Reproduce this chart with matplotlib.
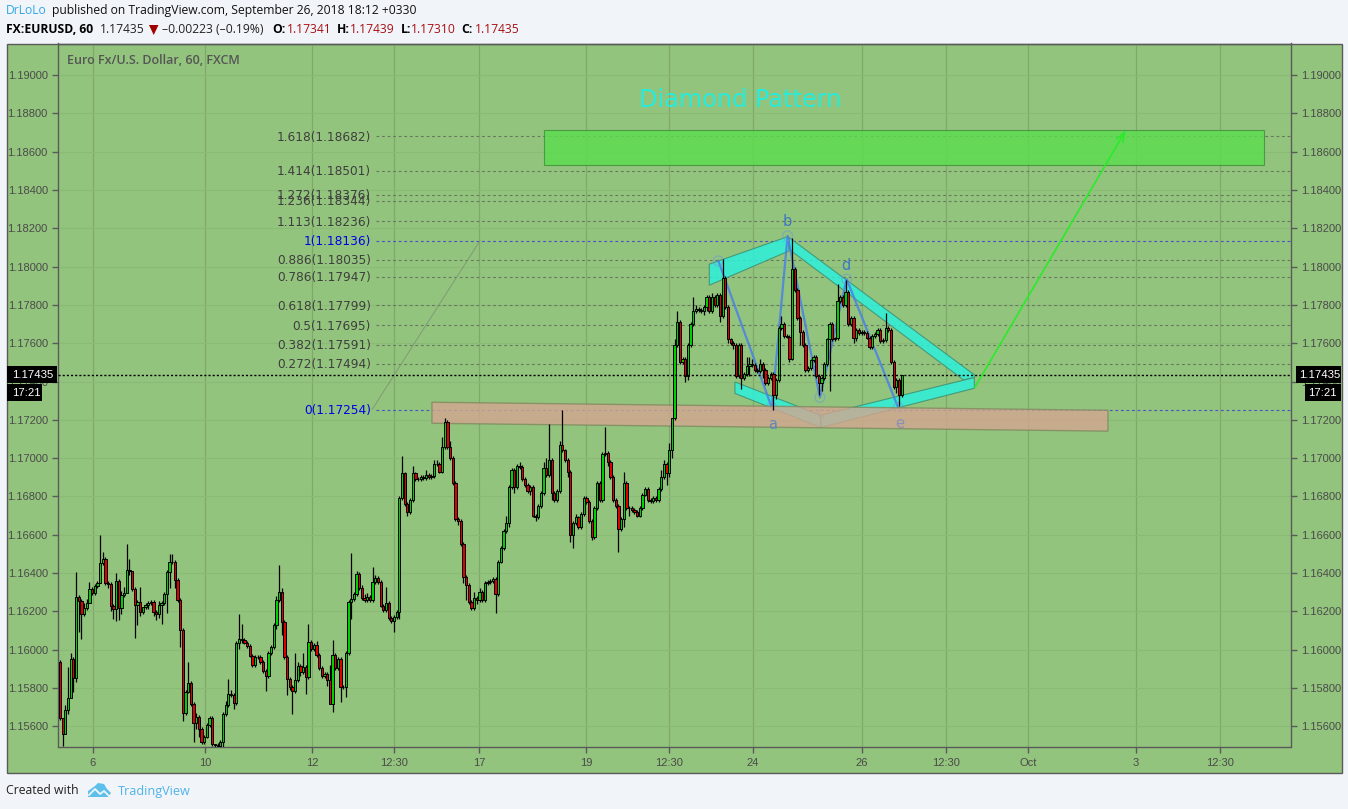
import numpy as np
import matplotlib
matplotlib.use("Agg")
import matplotlib.pyplot as plt
from matplotlib.patches import Rectangle, Polygon

W, H = 1348, 809

# hourly closes, one row per ten bars or so
closes = [
    1.15642, 1.15558, 1.15682, 1.15749, 1.15950, 1.15850, 1.16273, 1.16254, 1.16184, 1.16216,
    1.16242, 1.16315, 1.16294, 1.16334, 1.16350, 1.16451, 1.16472, 1.16346, 1.16343, 1.16230,
    1.16211, 1.16358, 1.16216, 1.16285, 1.16298, 1.16414, 1.16410, 1.16315, 1.16231, 1.16247,
    1.16198, 1.16221, 1.16233, 1.16242, 1.16247, 1.16198, 1.16184, 1.16233, 1.16242, 1.16289,
    1.16404, 1.16459, 1.16456, 1.16364, 1.16259, 1.16103, 1.15668, 1.15781, 1.15824, 1.15715,
    1.15615, 1.15650, 1.15584, 1.15515, 1.15546, 1.15607, 1.15642, 1.15508, 1.15502, 1.15494,
    1.15520, 1.15662, 1.15709, 1.15767, 1.15765, 1.15720, 1.16033, 1.16054, 1.16052, 1.16037,
    1.16019, 1.15969, 1.15920, 1.15963, 1.15961, 1.15937, 1.15890, 1.15864, 1.15981, 1.16012,
    1.16127, 1.16259, 1.16303, 1.16146, 1.15960, 1.15845, 1.15807, 1.15783, 1.15842, 1.15915,
    1.15882, 1.15911, 1.15856, 1.16042, 1.16002, 1.16023, 1.15974, 1.15903, 1.15863, 1.15873,
    1.15842, 1.15715, 1.15972, 1.15903, 1.15950, 1.15807, 1.15805, 1.15981, 1.16251, 1.16263,
    1.16291, 1.16393, 1.16320, 1.16268, 1.16259, 1.16277, 1.16259, 1.16351, 1.16372, 1.16355,
    1.16230, 1.16207, 1.16245, 1.16164, 1.16150, 1.16172, 1.16198, 1.1679, 1.1692, 1.1676,
    1.1672, 1.1678, 1.1692, 1.1689, 1.16892, 1.1690, 1.16895, 1.1691, 1.1690, 1.16905,
    1.1697, 1.16968, 1.1693, 1.1706, 1.1719, 1.1706, 1.1700, 1.1687, 1.1668, 1.16672,
    1.1655, 1.1638, 1.1634, 1.1625, 1.16215, 1.1627, 1.1626, 1.1630, 1.1626, 1.1635,
    1.16352, 1.1636, 1.1637, 1.1629, 1.1646, 1.1653, 1.1662, 1.1666, 1.1685, 1.1694,
    1.1685, 1.1696, 1.16955, 1.1689, 1.1686, 1.1683, 1.1685, 1.1670, 1.1669, 1.1675,
    1.1682, 1.1695, 1.1691, 1.1699, 1.1682, 1.1678, 1.1683, 1.1707, 1.1704, 1.1699,
    1.1693, 1.1660, 1.1666, 1.1669, 1.1664, 1.1671, 1.1679, 1.1677, 1.1667, 1.1659,
    1.1674, 1.1687, 1.1678, 1.1702, 1.17025, 1.1698, 1.1690, 1.1678, 1.1675, 1.1663,
    1.1668, 1.1687, 1.1674, 1.16738, 1.1673, 1.1672, 1.1670, 1.1674, 1.1681, 1.1684,
    1.1678, 1.16775, 1.1679, 1.1678, 1.1684, 1.1690, 1.1697, 1.1692, 1.1704, 1.1721,
    1.1759, 1.1771, 1.1750, 1.1752, 1.1743, 1.1759, 1.1770, 1.1777, 1.1778,
    1.17775, 1.1777, 1.1779, 1.1784, 1.1777, 1.1784, 1.1780, 1.1785, 1.1774, 1.1794,
    1.1779, 1.1762, 1.1760, 1.1759, 1.1743, 1.1759, 1.1742, 1.1744, 1.1748, 1.1749,
    1.17485, 1.1746, 1.17455, 1.1749, 1.1746, 1.1739, 1.1742, 1.1744, 1.1733, 1.1741,
    1.1768, 1.1770, 1.1764, 1.17635, 1.1752, 1.1799, 1.1788, 1.1773, 1.1766, 1.1759,
    1.1746, 1.1747, 1.1751, 1.1753, 1.1743, 1.1739, 1.1742, 1.1749, 1.1762,
    1.1770, 1.1762, 1.17625, 1.1782, 1.1784, 1.1780, 1.1787, 1.1770, 1.1773, 1.1763,
    1.1767, 1.17655, 1.1766, 1.17655, 1.1763, 1.1758, 1.1764, 1.1765, 1.1767, 1.1761,
    1.17615, 1.1768, 1.1767, 1.1750, 1.1737, 1.1741, 1.1733, 1.17435,
]
first_open = 1.15934

# wick lengths above / below the body, in pips
wick_up = [
    1, 0, 3, 16, 3, 1, 13, 1, 1, 3,
    2, 4, 1, 1, 1, 15, 4, 1, 1, 1,
    1, 4, 1, 2, 3, 14, 6, 0, 1, 1,
    8, 0, 1, 1, 1, 1, 1, 2, 1, 1,
    1, 4, 4, 1, 1, 1, 1, 1, 11, 1,
    1, 2, 1, 1, 1, 1, 1, 1, 0, 1,
    1, 1, 2, 8, 2, 1, 1, 13, 8, 1,
    1, 1, 1, 1, 1, 1, 1, 1, 1, 1,
    1, 2, 14, 2, 1, 1, 1, 1, 14, 2,
    1, 7, 1, 9, 1, 1, 2, 1, 1, 1,
    1, 8, 8, 1, 1, 1, 1, 1, 1, 24,
    1, 2, 1, 2, 2, 2, 1, 8, 2, 1,
    1, 1, 8, 1, 1, 1, 1, 1, 9, 1,
    1, 1, 4, 1, 1, 1, 1, 3, 1, 1,
    2, 2, 1, 5, 2, 1, 3, 1, 1, 1,
    1, 1, 1, 1, 1, 3, 1, 2, 1, 1,
    1, 1, 1, 1, 1, 1, 1, 4, 1, 1,
    1, 1, 2, 1, 1, 1, 1, 1, 1, 1,
    1, 3, 5, 19, 1, 1, 1, 2, 18, 1,
    1, 1, 1, 2, 1, 1, 1, 1, 1, 1,
    1, 1, 1, 1, 14, 1, 1, 1, 1, 1,
    1, 6, 1, 1, 1, 1, 1, 1, 1, 1,
    1, 1, 1, 1, 1, 4, 2, 1, 4, 0,
    3, 6, 1, 1, 1, 1, 1, 7, 2,
    1, 1, 1, 1, 1, 2, 1, 1, 1, 10,
    1, 1, 1, 1, 1, 1, 1, 1, 5, 4,
    3, 1, 1, 3, 1, 1, 1, 1, 1, 1,
    1, 4, 1, 1, 1, 16, 1, 1, 1, 1,
    1, 1, 1, 1, 1, 1, 1, 1, 1,
    1, 1, 1, 9, 1, 1, 6, 1, 1, 1,
    1, 1, 1, 1, 1, 1, 1, 1, 1, 1,
    1, 8, 1, 1, 1, 1, 1, 0,
]
wick_down = [
    1, 6, 0, 2, 0, 7, 2, 16, 13, 1,
    1, 0, 1, 1, 1, 0, 1, 1, 2, 3,
    5, 6, 6, 3, 1, 0, 2, 1, 17, 10,
    2, 1, 1, 2, 1, 2, 3, 2, 10, 1,
    10, 8, 1, 4, 1, 9, 4, 1, 1, 1,
    10, 3, 4, 1, 1, 1, 1, 1, 1, 1,
    1, 4, 1, 1, 1, 3, 1, 3, 2, 1,
    1, 1, 1, 1, 1, 1, 1, 8, 1, 1,
    1, 2, 1, 7, 1, 8, 2, 12, 1, 1,
    2, 1, 9, 1, 1, 1, 1, 1, 1, 1,
    3, 0, 4, 1, 1, 8, 1, 5, 1, 9,
    1, 1, 1, 1, 1, 1, 1, 1, 1, 1,
    1, 1, 1, 1, 1, 6, 1, 4, 1, 1,
    2, 1, 1, 1, 1, 1, 1, 1, 1, 1,
    1, 1, 1, 1, 1, 1, 1, 1, 1, 2,
    1, 3, 8, 1, 1, 1, 2, 1, 1, 1,
    1, 1, 1, 10, 1, 1, 1, 1, 2, 1,
    3, 1, 1, 1, 1, 1, 2, 1, 2, 1,
    1, 1, 1, 1, 4, 1, 1, 1, 1, 1,
    3, 4, 7, 1, 1, 1, 1, 1, 1, 2,
    1, 1, 1, 1, 1, 2, 1, 1, 1, 12,
    1, 4, 1, 4, 1, 1, 1, 1, 1, 1,
    1, 1, 1, 1, 1, 1, 1, 6, 2, 4,
    1, 1, 1, 1, 3, 2, 1, 1, 1,
    1, 1, 2, 2, 1, 1, 1, 1, 3, 1,
    1, 2, 1, 2, 1, 1, 6, 1, 1, 5,
    1, 1, 1, 1, 4, 1, 1, 1, 8, 2,
    1, 1, 1, 1, 2, 1, 1, 1, 7, 1,
    1, 1, 1, 1, 1, 6, 4, 1, 1,
    27, 1, 1, 1, 1, 1, 1, 1, 1, 3,
    2, 1, 1, 1, 1, 1, 1, 1, 1, 1,
    1, 1, 1, 1, 1, 3, 6, 1,
]

price_ticks = [1.156, 1.158, 1.160, 1.162, 1.164, 1.166, 1.168, 1.170, 1.172,
               1.174, 1.176, 1.178, 1.180, 1.182, 1.184, 1.186, 1.188, 1.190]
date_ticks = [12.35, 54.27, 94.31, 125.0, 156.8, 196.9, 227.9, 259.4, 300.1,
              331.6, 362.3, 402.7, 434.1]
date_labels = ["6", "10", "12", "12:30", "17", "19", "12:30", "24", "26",
               "12:30", "Oct", "3", "12:30"]

fib_ratios = ["1.618", "1.414", "1.272", "1.236", "1.113", "1", "0.886", "0.786",
              "0.618", "0.5", "0.382", "0.272", "0"]
fib_prices = [1.18682, 1.18501, 1.18376, 1.18344, 1.18236, 1.18136, 1.18035, 1.17947,
              1.17799, 1.17695, 1.17591, 1.17494, 1.17254]

# drawing tools on the chart, (bar, price)
target_zone = [(181.1, 1.18715), (450.6, 1.18715), (450.6, 1.18530), (181.1, 1.18530)]
support_zone = [(139.2, 1.17292), (392.2, 1.17250), (392.2, 1.17141), (139.2, 1.17182)]
band_upper_left = [(243.0, 1.18013), (272.6, 1.18158), (272.8, 1.18082), (243.0, 1.17903)]
band_upper_right = [(272.9, 1.18152), (342.2, 1.17435), (342.2, 1.17421), (338.1, 1.17409), (273.1, 1.18088)]
band_lower_right = [(284.7, 1.17224), (342.2, 1.17421), (342.2, 1.17365), (284.7, 1.17160)]
band_lower_left = [(252.6, 1.17398), (284.7, 1.17224), (284.7, 1.17160), (252.6, 1.17338)]
wave_bars = [246.4, 266.4, 272.3, 284.4, 294.4, 313.7]
wave_prices = [1.18030, 1.17264, 1.18161, 1.17317, 1.17935, 1.17264]
wave_names = ["a", "b", "c", "d", "e"]
wave_name_bars = [266.8, 272.1, 284.4, 294.2, 314.4]
wave_name_prices = [1.17177, 1.18237, 1.17235, 1.18008, 1.17182]
wave_name_colors = ["#5f86b8", "#3f78c4", "#b5a79a", "#3f78c4", "#8a8fb5"]
arrow_start = (342.4, 1.17370)
arrow_end = (398.9, 1.18713)
fib_trend_bars = [116.8, 157.2]
last_price = 1.17435

BG = "#f1f4f8"
PANE = "#93c47d"
EDGE = "#5a5a5a"
TXT = "#4a4a4a"
SANS = "Liberation Sans"
HEAD = "Open Sans"


def pixel_axes(zorder):
    a = fig.add_axes([0, 0, 1, 1], zorder=zorder)
    a.set_xlim(0, W)
    a.set_ylim(H, 0)
    a.axis("off")
    return a


fig = plt.figure(figsize=(W / 100, H / 100), dpi=100, facecolor=BG)

# panel behind the chart
back = pixel_axes(0)
back.add_patch(Rectangle((6.5, 43.5), 1335, 729, facecolor=PANE, edgecolor=EDGE, lw=1))

# price pane
ax = fig.add_axes([57.5 / W, 1 - 746.5 / H, 1233.5 / W, 703 / H], zorder=1)
ax.patch.set_alpha(0)
s = 2.672
ax.set_xlim(-2.5 / s, 1231 / s)
ax.set_ylim(1.19 - 671.3 / 19147, 1.19 + 31.7 / 19147)

ax.set_yticks(price_ticks)
ax.set_yticklabels(["%.5f" % p for p in price_ticks])
ax.set_xticks(date_ticks)
ax.set_xticklabels(date_labels)
ax.tick_params(axis="y", labelright=True, right=True, length=4, width=1, color=EDGE,
               labelcolor=TXT, labelsize=8, pad=3)
ax.tick_params(axis="x", length=4, width=1, color=EDGE, labelcolor=TXT, labelsize=8, pad=4)
for t in ax.yaxis.get_major_ticks() + ax.xaxis.get_major_ticks():
    t.label1.set_family(SANS)
    t.label2.set_family(SANS)
for sp in ax.spines.values():
    sp.set_color(EDGE)
    sp.set_linewidth(1)
ax.grid(True, axis="x", color="#7fa96c", lw=0.9, zorder=0)
ax.grid(True, axis="y", color="#8bb976", lw=0.8, zorder=0)
ax.set_axisbelow(True)

# fibonacci levels
for ratio, price in zip(fib_ratios, fib_prices):
    col = "#4a50c8" if ratio in ("0", "1") else "#66785f"
    ax.plot([118.3, 1231 / s], [price, price], color=col, lw=0.8, ls=(0, (2.5, 2.5)), zorder=1)
    ax.text(116.4, price - 0.00005, "%s(%.5f)" % (ratio, price), ha="right", va="center", fontsize=8.7,
            color="#0000e6" if ratio in ("0", "1") else "#3e3e3e", zorder=2)
ax.plot(fib_trend_bars, [fib_prices[-1], fib_prices[5]], color="#7f9a75", lw=0.7, zorder=1)

# diamond
for band in (band_upper_left, band_upper_right, band_lower_right, band_lower_left):
    ax.add_patch(Polygon(band, closed=True, facecolor="#2df0dc", alpha=0.85,
                         edgecolor="#3f8f70", lw=0.8, zorder=1.4))
ax.plot(wave_bars, wave_prices, color="#4a80e6", lw=1.6, alpha=0.85, zorder=1.5)
ax.scatter(wave_bars, wave_prices, s=50, facecolors="none", edgecolors="#6e9bd6", lw=0.9,
           alpha=0.6, zorder=1.5)

ax.add_patch(Polygon(support_zone, closed=True, facecolor="#d4a690", alpha=0.8,
                     edgecolor="#7f8a60", lw=1, zorder=1.6))
ax.add_patch(Polygon(target_zone, closed=True, facecolor="#5bde4f", alpha=0.8,
                     edgecolor="#3a8f3a", lw=0.8, zorder=1.6))
for name, bx, py, col in zip(wave_names, wave_name_bars, wave_name_prices, wave_name_colors):
    ax.text(bx, py, name, ha="center", va="center", fontsize=10.5, color=col, zorder=1.7)

# candles
opens = np.array([first_open] + closes[:-1])
close_arr = np.array(closes)
x = np.arange(len(closes))
body_low = np.minimum(opens, close_arr)
body_high = np.maximum(opens, close_arr)
highs = body_high + np.array(wick_up) * 0.0001
lows = body_low - np.array(wick_down) * 0.0001
colors = ["#00d000" if c >= o else "#e00000" for o, c in zip(opens, close_arr)]
ax.vlines(x, lows, highs, color="black", lw=0.9, zorder=3)
ax.bar(x, body_high - body_low, bottom=body_low, width=0.85, color=colors,
       edgecolor="black", linewidth=0.7, zorder=4)

# last price and projection
ax.axhline(last_price, color="black", lw=1, ls=(0, (1.5, 1.5)), zorder=5)
ax.annotate("", xy=arrow_end, xytext=arrow_start, zorder=6,
            arrowprops=dict(arrowstyle="->,head_length=0.7,head_width=0.25", color="#2bea2b", lw=1.2,
                            shrinkA=0, shrinkB=0))
ax.text(254.5, 1.18868, "Diamond Pattern", ha="center", va="center", fontsize=17.3, color="#26ecdc", zorder=6)

# everything that sits over the axis labels
front = pixel_axes(3)
front.text(67, 60, "Euro Fx/U.S. Dollar, 60, FXCM", family=HEAD, weight="semibold", fontsize=9,
           color="#555555", va="center")
for x0, x1, y0, y1, label in [(7, 57, 366, 383, "1.17435"), (7, 42, 384, 401, "17:21"),
                              (1296, 1341, 366, 383, "1.17435"), (1305, 1341, 384, 401, "17:21")]:
    front.add_patch(Rectangle((x0, y0), x1 - x0, y1 - y0, facecolor="black", edgecolor="none"))
    tx = 12 if x0 == 7 else x0 + 3
    front.text(tx, (y0 + y1) / 2 + 0.5, label, family=SANS, fontsize=8.2, color="white", va="center")

# header
head_parts = [
    (6, 10, "DrLoLo", "#2fa8e6", "normal"),
    (52, 10, "published on TradingView.com, September 26, 2018 18:12 +0330", "#111111", "normal"),
    (6, 29, "FX:EURUSD, 60", "black", "bold"),
    (100, 29, "1.17435", "#222222", "normal"),
    (162, 29, "\u20130.00223 (\u20130.19%)", "#222222", "normal"),
    (272, 29, "O:", "black", "bold"),
    (287, 29, "1.17341", "#a80f14", "normal"),
    (337, 29, "H:", "black", "bold"),
    (350, 29, "1.17439", "#a80f14", "normal"),
    (401, 29, "L:", "black", "bold"),
    (411, 29, "1.17310", "#a80f14", "normal"),
    (461, 29, "C:", "black", "bold"),
    (475, 29, "1.17435", "#a80f14", "normal"),
]
for hx, hy, txt, col, wt in head_parts:
    front.text(hx, hy, txt, family=HEAD, fontsize=8.7, color=col, weight=wt, va="center")
front.add_patch(Polygon([(149, 25), (158.5, 25), (153.7, 35)], closed=True, facecolor="#a00000", edgecolor="none"))

# footer
front.text(6, 791, "Created with", family=HEAD, fontsize=8.8, color="#222222", va="center")
front.text(118, 791, "TradingView", family=HEAD, fontsize=9.1, color="#4fb3e8", va="center")
cloud = "#5cc0ea"
front.add_patch(Polygon([(88, 797), (88, 791), (95, 786), (98, 783), (104, 784), (107, 789), (111, 793), (108, 797)],
                        closed=True, facecolor=cloud, edgecolor="none"))
front.plot([89, 95, 100, 104, 110], [795, 789, 794, 791, 797], color=BG, lw=1.3)

fig.savefig("out.png", dpi=100, facecolor=BG)
